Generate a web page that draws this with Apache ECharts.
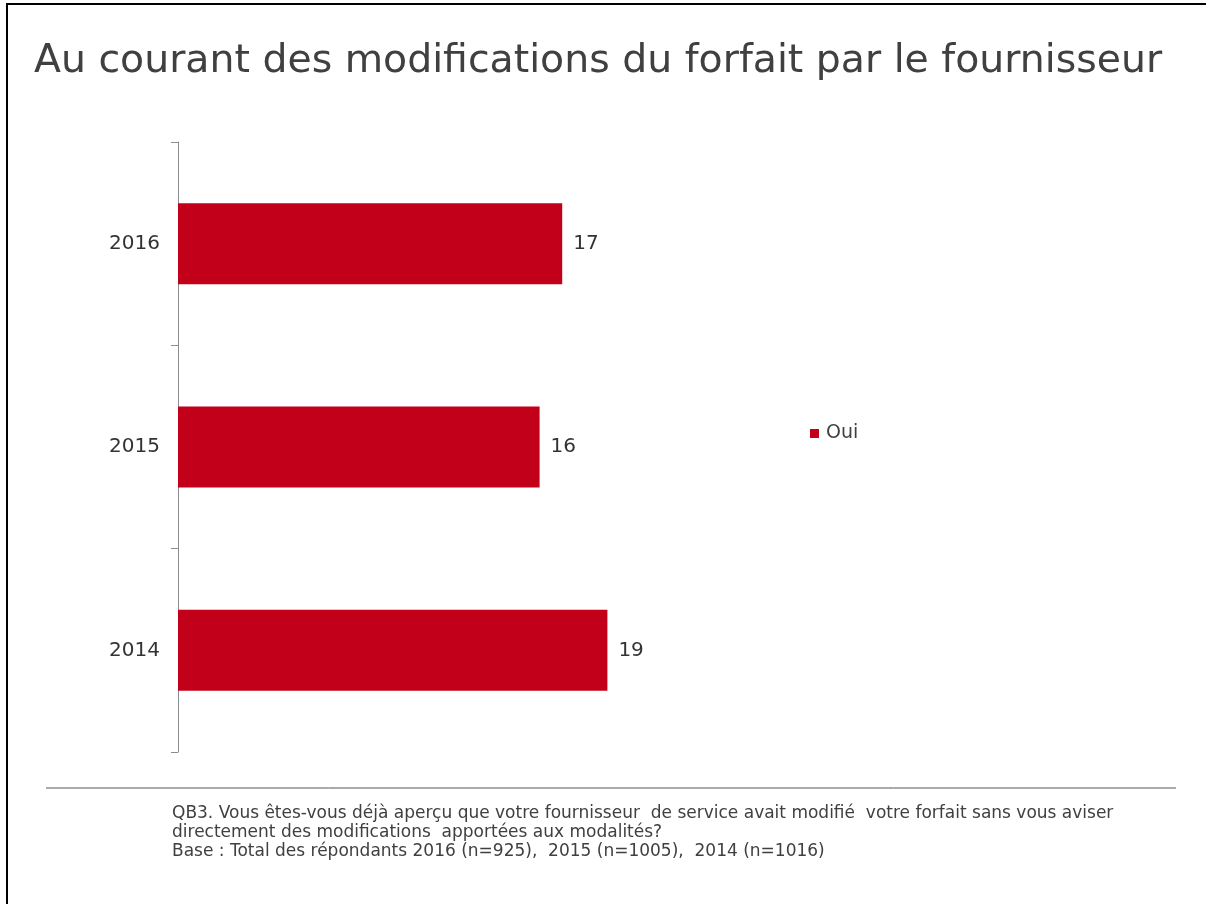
<!DOCTYPE html>
<html>
<head>
<meta charset="utf-8">
<script src="https://cdn.jsdelivr.net/npm/echarts@6/dist/echarts.min.js"></script>
<style>html,body{margin:0;padding:0;background:#fff;}#c{width:1206px;height:904px;}</style>
</head>
<body>
<div id="c"></div>
<script>
const titleText = 'Au courant des modifications du forfait par le fournisseur';
const categories = ['2016', '2015', '2014'];
const seriesName = 'Oui';
const values = [17, 16, 19];
const footnoteLines = [
  'QB3. Vous êtes-vous déjà aperçu que votre fournisseur  de service avait modifié  votre forfait sans vous aviser',
  'directement des modifications  apportées aux modalités?',
  'Base : Total des répondants 2016 (n=925),  2015 (n=1005),  2014 (n=1016)'
];

const chart = echarts.init(document.getElementById('c'), null, {renderer: 'canvas'});
const fontFam = 'DejaVu Sans, Verdana, sans-serif';
const option = {
  backgroundColor: '#fff',
  animation: false,
  title: {
    text: titleText,
    left: 29, top: 37,
    textStyle: {fontFamily: fontFam, fontSize: 39.4, fontWeight: 'normal', color: '#404040'}
  },
  legend: {
    data: [seriesName],
    left: 805, top: 419,
    icon: 'rect', itemWidth: 9, itemHeight: 9,
    textStyle: {fontFamily: fontFam, fontSize: 19, color: '#404040', padding: [0,0,0,2]}
  },
  grid: {left: 178, top: 142, width: 904, height: 610, containLabel: false},
  xAxis: {type: 'value', min: 0, max: 40, show: false},
  yAxis: {
    type: 'category', data: categories, inverse: true,
    axisLine: {show: true, lineStyle: {color: '#8c8c8c', width: 1}},
    axisTick: {show: true, length: 7, lineStyle: {color: '#8c8c8c'}},
    axisLabel: {margin: 18, fontFamily: fontFam, fontSize: 20, color: '#333'}
  },
  series: [{
    name: seriesName, type: 'bar', data: values,
    barWidth: 81,
    itemStyle: {color: '#C3001A'},
    label: {show: true, position: 'right', distance: 11, fontFamily: fontFam, fontSize: 20, color: '#333'}
  }],
  graphic: [
    {type: 'rect', shape: {x: 7, y: 4, width: 1400, height: 1100}, style: {fill: 'none', stroke: '#000', lineWidth: 2}, silent: true},
    {type: 'line', shape: {x1: 46, y1: 788, x2: 1176, y2: 788}, style: {stroke: '#555', lineWidth: 1}},
    ...footnoteLines.map((t, i) => ({
      type: 'text', left: 172, top: 805 + i * 19,
      style: {text: t, fontFamily: fontFam, fontSize: 17, fill: '#404040'}
    }))
  ]
};
chart.setOption(option);
</script>
</body>
</html>
